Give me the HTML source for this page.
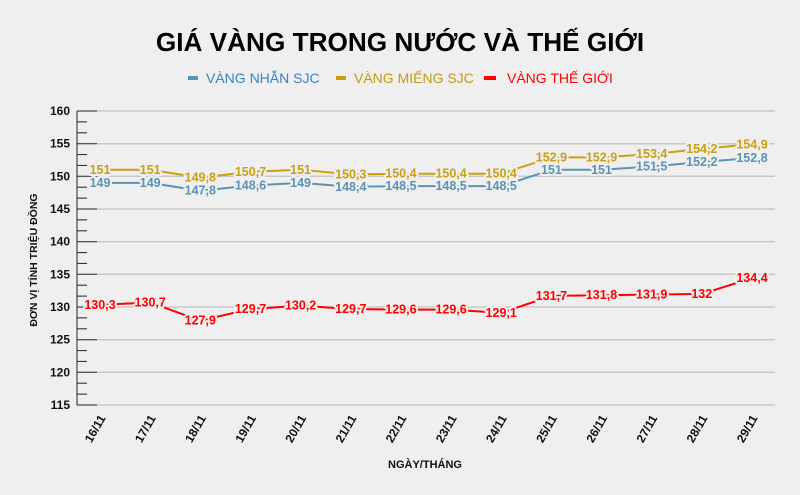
<!DOCTYPE html>
<html><head><meta charset="utf-8"><style>
html,body{margin:0;padding:0;background:#efefef;}
svg{display:block;font-family:"Liberation Sans",Arial,sans-serif;}
.yt{font-size:12px;font-weight:bold;fill:#111;text-anchor:end;}
.xt{font-size:12px;font-weight:bold;fill:#111;text-anchor:end;}
.lb{font-size:12.5px;font-weight:bold;text-anchor:middle;dominant-baseline:central;paint-order:stroke;stroke:#efefef;stroke-width:4px;stroke-linejoin:round;}
.b{fill:#5a93b5;} .g{fill:#cc9f10;} .r{fill:#ff0000;}
</style></head><body>
<svg width="800" height="495" viewBox="0 0 800 495">
<rect width="800" height="495" fill="#efefef"/>
<text x="400" y="51" text-anchor="middle" font-size="26.2" font-weight="bold" fill="#000">GIÁ VÀNG TRONG NƯỚC VÀ THẾ GIỚI</text>
<rect x="188" y="76" width="10" height="4" fill="#5a93b5"/>
<text x="206" y="83" font-size="14" fill="#3a82c8">VÀNG NHẪN SJC</text>
<rect x="336" y="76" width="10" height="4" fill="#cc9f10"/>
<text x="354" y="83" font-size="14" fill="#c49a10">VÀNG MIẾNG SJC</text>
<rect x="484" y="76" width="12" height="4" fill="#ff0000"/>
<text x="507" y="83" font-size="14" fill="#ff0000">VÀNG THẾ GIỚI</text>
<g stroke="#c8c8c8" stroke-width="1.5">
<line x1="97" y1="111" x2="775" y2="111"/><line x1="97" y1="143.7" x2="775" y2="143.7"/><line x1="97" y1="176.3" x2="775" y2="176.3"/><line x1="97" y1="209" x2="775" y2="209"/><line x1="97" y1="241.7" x2="775" y2="241.7"/><line x1="97" y1="274.3" x2="775" y2="274.3"/><line x1="97" y1="307" x2="775" y2="307"/><line x1="97" y1="339.7" x2="775" y2="339.7"/><line x1="97" y1="372.3" x2="775" y2="372.3"/><line x1="97" y1="405" x2="775" y2="405"/>
</g>
<g stroke="#222" stroke-width="1">
<line x1="77" y1="111" x2="77" y2="405"/>
<line x1="77" y1="111" x2="97" y2="111"/><line x1="77" y1="143.7" x2="97" y2="143.7"/><line x1="77" y1="176.3" x2="97" y2="176.3"/><line x1="77" y1="209" x2="97" y2="209"/><line x1="77" y1="241.7" x2="97" y2="241.7"/><line x1="77" y1="274.3" x2="97" y2="274.3"/><line x1="77" y1="307" x2="97" y2="307"/><line x1="77" y1="339.7" x2="97" y2="339.7"/><line x1="77" y1="372.3" x2="97" y2="372.3"/><line x1="77" y1="405" x2="97" y2="405"/>
<line x1="77" y1="121.9" x2="87" y2="121.9"/><line x1="77" y1="132.8" x2="87" y2="132.8"/>
<line x1="77" y1="154.6" x2="87" y2="154.6"/><line x1="77" y1="165.4" x2="87" y2="165.4"/>
<line x1="77" y1="187.2" x2="87" y2="187.2"/><line x1="77" y1="198.1" x2="87" y2="198.1"/>
<line x1="77" y1="219.9" x2="87" y2="219.9"/><line x1="77" y1="230.8" x2="87" y2="230.8"/>
<line x1="77" y1="252.6" x2="87" y2="252.6"/><line x1="77" y1="263.4" x2="87" y2="263.4"/>
<line x1="77" y1="285.2" x2="87" y2="285.2"/><line x1="77" y1="296.1" x2="87" y2="296.1"/>
<line x1="77" y1="317.9" x2="87" y2="317.9"/><line x1="77" y1="328.8" x2="87" y2="328.8"/>
<line x1="77" y1="350.6" x2="87" y2="350.6"/><line x1="77" y1="361.4" x2="87" y2="361.4"/>
<line x1="77" y1="383.2" x2="87" y2="383.2"/><line x1="77" y1="394.1" x2="87" y2="394.1"/>
</g>
<g class="yt">
<text x="70" y="115">160</text><text x="70" y="147.7">155</text><text x="70" y="180.3">150</text><text x="70" y="213">145</text><text x="70" y="245.7">140</text><text x="70" y="278.3">135</text><text x="70" y="311">130</text><text x="70" y="343.7">125</text><text x="70" y="376.3">120</text><text x="70" y="409">115</text>
</g>
<text transform="translate(37,260) rotate(-90)" text-anchor="middle" font-size="10.5" font-weight="bold" fill="#111">ĐƠN VỊ TÍNH TRIỆU ĐỒNG</text>
<text x="425" y="468" text-anchor="middle" font-size="11" font-weight="bold" fill="#111">NGÀY/THÁNG</text>
<g class="xt">
<text transform="translate(106,418) rotate(-60)">16/11</text>
<text transform="translate(156.2,418) rotate(-60)">17/11</text>
<text transform="translate(206.3,418) rotate(-60)">18/11</text>
<text transform="translate(256.5,418) rotate(-60)">19/11</text>
<text transform="translate(306.6,418) rotate(-60)">20/11</text>
<text transform="translate(356.8,418) rotate(-60)">21/11</text>
<text transform="translate(406.9,418) rotate(-60)">22/11</text>
<text transform="translate(457.1,418) rotate(-60)">23/11</text>
<text transform="translate(507.2,418) rotate(-60)">24/11</text>
<text transform="translate(557.4,418) rotate(-60)">25/11</text>
<text transform="translate(607.5,418) rotate(-60)">26/11</text>
<text transform="translate(657.7,418) rotate(-60)">27/11</text>
<text transform="translate(707.8,418) rotate(-60)">28/11</text>
<text transform="translate(758,418) rotate(-60)">29/11</text>
</g>
<g fill="none" stroke-width="2" stroke-linejoin="round">
<polyline stroke="#5a93b5" points="100,182.9 150.2,182.9 200.3,190.7 250.5,185.5 300.6,182.9 350.8,186.8 400.9,186.1 451.1,186.1 501.2,186.1 551.4,169.8 601.5,169.8 651.7,166.5 701.8,162 752,158"/>
<polyline stroke="#cc9f10" points="100,169.8 150.2,169.8 200.3,177.6 250.5,171.8 300.6,169.8 350.8,174.4 400.9,173.7 451.1,173.7 501.2,173.7 551.4,157.4 601.5,157.4 651.7,154.1 701.8,148.9 752,144.3"/>
<polyline stroke="#ff0000" points="100,305 150.2,302.4 200.3,320.7 250.5,309 300.6,305.7 350.8,309 400.9,309.6 451.1,309.6 501.2,312.9 551.4,295.9 601.5,295.2 651.7,294.6 701.8,293.9 752,278.2"/>
</g>
<g class="lb b">
<text x="100" y="182.9">149</text><text x="150.2" y="182.9">149</text><text x="200.3" y="190.7">147,8</text><text x="250.5" y="185.5">148,6</text><text x="300.6" y="182.9">149</text><text x="350.8" y="186.8">148,4</text><text x="400.9" y="186.1">148,5</text><text x="451.1" y="186.1">148,5</text><text x="501.2" y="186.1">148,5</text><text x="551.4" y="169.8">151</text><text x="601.5" y="169.8">151</text><text x="651.7" y="166.5">151,5</text><text x="701.8" y="162">152,2</text><text x="752" y="158">152,8</text>
</g>
<g class="lb g">
<text x="100" y="169.8">151</text><text x="150.2" y="169.8">151</text><text x="200.3" y="177.6">149,8</text><text x="250.5" y="171.8">150,7</text><text x="300.6" y="169.8">151</text><text x="350.8" y="174.4">150,3</text><text x="400.9" y="173.7">150,4</text><text x="451.1" y="173.7">150,4</text><text x="501.2" y="173.7">150,4</text><text x="551.4" y="157.4">152,9</text><text x="601.5" y="157.4">152,9</text><text x="651.7" y="154.1">153,4</text><text x="701.8" y="148.9">154,2</text><text x="752" y="144.3">154,9</text>
</g>
<g class="lb r">
<text x="100" y="305">130,3</text><text x="150.2" y="302.4">130,7</text><text x="200.3" y="320.7">127,9</text><text x="250.5" y="309">129,7</text><text x="300.6" y="305.7">130,2</text><text x="350.8" y="309">129,7</text><text x="400.9" y="309.6">129,6</text><text x="451.1" y="309.6">129,6</text><text x="501.2" y="312.9">129,1</text><text x="551.4" y="295.9">131,7</text><text x="601.5" y="295.2">131,8</text><text x="651.7" y="294.6">131,9</text><text x="701.8" y="293.9">132</text><text x="752" y="278.2">134,4</text>
</g>
</svg>
</body></html>
